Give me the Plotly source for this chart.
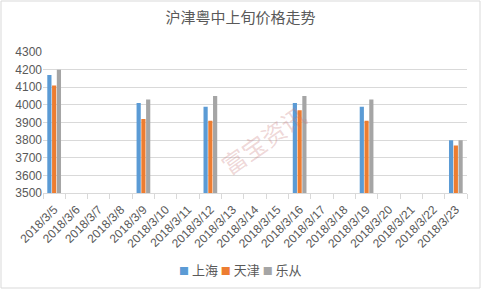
import plotly.graph_objects as go

dates = ["2018/3/5", "2018/3/6", "2018/3/7", "2018/3/8", "2018/3/9", "2018/3/10",
         "2018/3/11", "2018/3/12", "2018/3/13", "2018/3/14", "2018/3/15", "2018/3/16",
         "2018/3/17", "2018/3/18", "2018/3/19", "2018/3/20", "2018/3/21", "2018/3/22",
         "2018/3/23"]
shanghai = [4170, None, None, None, 4010, None, None, 3990, None, None, None, 4010,
            None, None, 3990, None, None, None, 3800]
tianjin = [4110, None, None, None, 3920, None, None, 3910, None, None, None, 3970,
           None, None, 3910, None, None, None, 3770]
lecong = [4200, None, None, None, 4030, None, None, 4050, None, None, None, 4050,
          None, None, 4030, None, None, None, 3800]
y_ticks = [3500, 3600, 3700, 3800, 3900, 4000, 4100, 4200, 4300]

W, H = 481, 289
L, R, T, B = 43, 14, 52, 96
pw, ph = W - L - R, H - T - B

font = "Liberation Sans, DejaVu Sans, Noto Sans CJK SC"
series = [("上海", shanghai, "#5b9bd5"), ("天津", tianjin, "#ed7d31"),
          ("乐从", lecong, "#a5a5a5")]
fig = go.Figure()
for name, vals, col in series:
    fig.add_trace(go.Bar(x=dates, y=vals, name=name, marker_color=col,
                         marker_line_width=0, showlegend=False))

legend_text = " ".join(
    f'<span style="color:{col};font-size:10px">■</span> {name}'
    for name, _, col in series)

fig.update_layout(
    width=W, height=H,
    margin=dict(l=L, r=R, t=T, b=B),
    paper_bgcolor="white", plot_bgcolor="white",
    barmode="group", bargap=0.36, bargroupgap=0.12,
    title=dict(text="沪津粤中上旬价格走势", x=0.5, xanchor="center", y=1 - 18 / H,
               yanchor="middle",
               font=dict(size=15, color="#595959", family="Noto Sans CJK SC")),
    font=dict(family=font, color="#595959", size=11),
    xaxis=dict(type="category", tickangle=-45, showgrid=False, showline=True,
               linecolor="#d9d9d9", ticks="outside", tickson="boundaries",
               tickcolor="#d9d9d9", ticklen=5, ticklabelstandoff=4,
               tickfont=dict(size=12, color="#595959")),
    yaxis=dict(range=[3500, 4300], tickvals=y_ticks, showgrid=True,
               gridcolor="#d9d9d9", gridwidth=1, showline=False, zeroline=False,
               tickfont=dict(size=12, color="#595959")),
    shapes=[dict(type="rect", xref="paper", yref="paper",
                 x0=-(L - 1) / pw, x1=1 + (R - 1) / pw,
                 y0=-(B - 1) / ph, y1=1 + (T - 1) / ph,
                 line=dict(color="#d9d9d9", width=1), fillcolor="rgba(0,0,0,0)",
                 layer="below")],
    annotations=[
        dict(text="富宝资讯", xref="paper", yref="paper", x=0.52, y=0.38,
             showarrow=False, textangle=-35,
             font=dict(size=24, color="rgba(200,120,120,0.3)",
                       family="Noto Sans CJK SC")),
        dict(text=legend_text, xref="paper", yref="paper",
             x=(240 - L) / pw, y=-(269 - (T + ph)) / ph,
             xanchor="center", yanchor="middle", showarrow=False,
             font=dict(size=13, color="#595959", family="Noto Sans CJK SC")),
    ],
)

fig.write_html("out.html")
